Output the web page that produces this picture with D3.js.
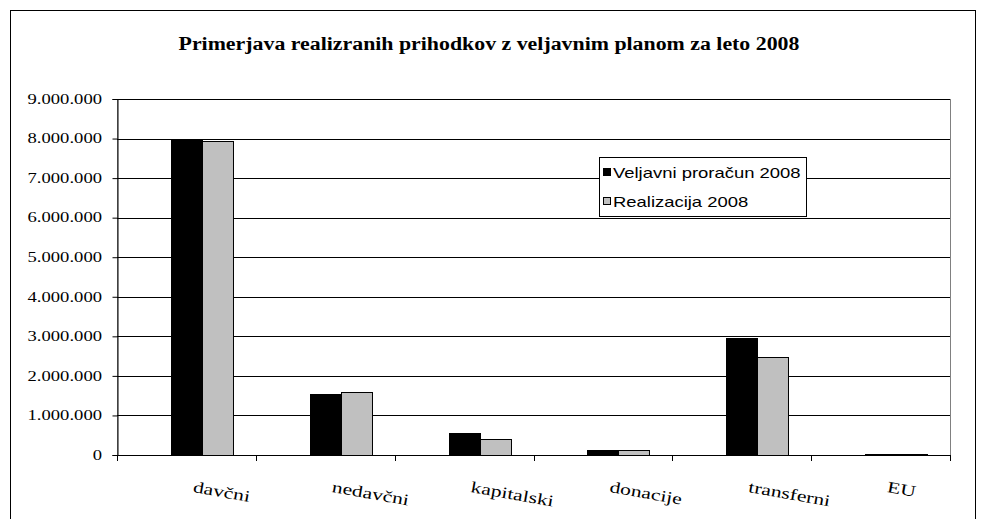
<!DOCTYPE html>
<html>
<head>
<meta charset="utf-8">
<script src="https://cdn.jsdelivr.net/npm/d3@7"></script>
<style>
  body { margin: 0; background: #fff; }
  svg { display: block; }
  .serif { font-family: "Liberation Serif", "Times New Roman", serif; fill: #000; }
  .sans { font-family: "Liberation Sans", Arial, sans-serif; fill: #000; }
</style>
</head>
<body>
<svg id="chart" width="982" height="519"></svg>
<script>
const title = 'Primerjava realizranih prihodkov z veljavnim planom za leto 2008';
const categories = ['davčni', 'nedavčni', 'kapitalski', 'donacije', 'transferni', 'EU'];
const seriesNames = ['Veljavni proračun 2008', 'Realizacija 2008'];
const veljavni = [7970000, 1530000, 550000, 120000, 2950000, 35000];
const realizacija = [7940000, 1585000, 410000, 115000, 2480000, 35000];
const yTicks = [0, 1000000, 2000000, 3000000, 4000000, 5000000, 6000000, 7000000, 8000000, 9000000];
const colors = ['#000000', '#c0c0c0'];

const svg = d3.select('#chart');
const plot = { left: 117, right: 950, top: 99, bottom: 455 };

const nl = d3.formatLocale({ decimal: ',', thousands: '.', grouping: [3], currency: ['', ''] });
const fmt = nl.format(',');

// outer frame
svg.append('rect')
    .attr('x', 10.5).attr('y', 10.5)
    .attr('width', 965).attr('height', 530)
    .attr('fill', 'none').attr('stroke', '#000').attr('stroke-width', 1);

// text in the picture is stretched sideways, so scale x
function stretchedText(g, x, y, txt, cls, size, anchor, sx, rot) {
    return g.append('text')
        .attr('class', cls)
        .attr('transform', `translate(${x},${y}) rotate(${rot || 0}) scale(${sx},1)`)
        .attr('text-anchor', anchor)
        .style('font-size', size + 'px')
        .text(txt);
}

stretchedText(svg, 489, 50, title, 'serif', 19, 'middle', 1.15).style('font-weight', 'bold');

const y = d3.scaleLinear().domain([0, 9000000]).range([plot.bottom, plot.top]);
const x0 = d3.scaleBand().domain(categories).range([plot.left, plot.right]).paddingInner(0).paddingOuter(0);
// Excel leaves an empty series slot before the two real ones
const x1 = d3.scaleBand().domain(['_empty'].concat(seriesNames)).range([0, x0.bandwidth()]).paddingInner(0).paddingOuter(0.74);

// plot area border
svg.append('rect')
    .attr('x', plot.left + 0.5).attr('y', plot.top + 0.5)
    .attr('width', plot.right - plot.left).attr('height', plot.bottom - plot.top)
    .attr('fill', 'none').attr('stroke', '#808080');

// gridlines
svg.append('g').selectAll('line')
    .data(yTicks.filter(d => d > 0))
    .join('line')
    .attr('x1', plot.left).attr('x2', plot.right)
    .attr('y1', d => Math.round(y(d)) + 0.5).attr('y2', d => Math.round(y(d)) + 0.5)
    .attr('stroke', '#000').attr('stroke-width', 1);

// y axis
const yAxis = svg.append('g')
    .attr('transform', `translate(${plot.left + 0.5},0)`)
    .call(d3.axisLeft(y).tickValues(yTicks).tickSize(5).tickFormat(''));
yAxis.select('.domain').attr('stroke', '#000');
yAxis.selectAll('.tick line').attr('stroke', '#000');
yTicks.forEach(t => {
    stretchedText(svg, 102, y(t) + 4.8, fmt(t), 'serif', 14, 'end', 1.33);
});

// bars
const series = [veljavni, realizacija];
series.forEach((vals, si) => {
    svg.append('g').selectAll('rect')
        .data(categories)
        .join('rect')
        .attr('x', (d) => Math.round(x0(d) + x1(seriesNames[si])) + 0.5)
        .attr('y', (d, i) => Math.round(y(vals[i])) + 0.5)
        .attr('width', x1.bandwidth())
        .attr('height', (d, i) => Math.max(0, Math.round(y(0)) - Math.round(y(vals[i]))))
        .attr('fill', colors[si])
        .attr('stroke', '#000').attr('stroke-width', 1);
});

// x axis
const xTicks = categories.map(c => x0(c)).concat([plot.right]);
svg.append('line')
    .attr('x1', plot.left).attr('x2', plot.right + 1)
    .attr('y1', plot.bottom + 0.5).attr('y2', plot.bottom + 0.5)
    .attr('stroke', '#000');
svg.append('g').selectAll('line')
    .data(xTicks)
    .join('line')
    .attr('x1', d => Math.round(d) + 0.5).attr('x2', d => Math.round(d) + 0.5)
    .attr('y1', plot.bottom).attr('y2', plot.bottom + 6)
    .attr('stroke', '#000');

categories.forEach(c => {
    stretchedText(svg, x0(c) + x0.bandwidth() / 2 + 6, 492, c, 'serif', 16, 'start', 1.35, 10);
});

// legend
const legend = svg.append('g').attr('transform', 'translate(599,157)');
legend.append('rect')
    .attr('x', 0.5).attr('y', 0.5).attr('width', 207).attr('height', 59)
    .attr('fill', '#fff').attr('stroke', '#000');
seriesNames.forEach((name, i) => {
    legend.append('rect')
        .attr('x', 4.5).attr('y', 11.5 + i * 29)
        .attr('width', 7).attr('height', 7)
        .attr('fill', colors[i]).attr('stroke', '#000');
    stretchedText(legend, 14, 20.5 + i * 29.5, name, 'sans', 15, 'start', 1.23);
});
</script>
</body>
</html>
